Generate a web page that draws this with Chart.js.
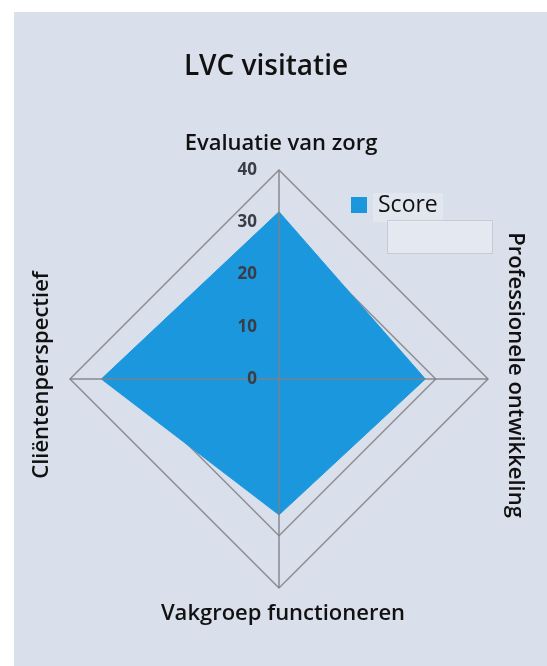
<!DOCTYPE html>
<html>
<head>
<meta charset="utf-8">
<script src="https://cdn.jsdelivr.net/npm/chart.js@4/dist/chart.umd.min.js"></script>
<style>
  html, body { margin: 0; padding: 0; background: #fff; }
  #panel {
    position: absolute;
    left: 14px;
    top: 12px;
    width: 533px;
    height: 654px;
    background: #d9dfeb;
  }
</style>
</head>
<body>
<div id="panel"><canvas id="radar"></canvas></div>
<script>
// chart data
const title = "LVC visitatie";
const categories = [
  "Evaluatie van zorg",
  "Professionele ontwikkeling",
  "Vakgroep functioneren",
  "Cliëntenperspectief",
];
const seriesName = "Score";
const scores = [32, 28, 26, 34];
const scaleMax = 40;
const tickStep = 10;

const BLUE = "#1b97dd";
const TEXT = "#111";

/**
 * Draws the bits Chart.js can't lay out like the original:
 * axis lines over the fill, offset tick labels, rotated side labels,
 * the title and the little legend.
 */
const radarDecor = {
  id: "radarDecor",
  afterDatasetsDraw(chart) {
    const r = chart.scales.r;
    const ctx = chart.ctx;
    ctx.save();

    // axis lines sit on top of the filled area
    ctx.strokeStyle = "rgba(128,128,132,0.9)";
    ctx.lineWidth = 1.5;
    categories.forEach((c, i) => {
      const p = r.getPointPositionForValue(i, r.max);
      ctx.beginPath();
      ctx.moveTo(r.xCenter, r.yCenter);
      ctx.lineTo(p.x, p.y);
      ctx.stroke();
    });

    // tick labels, left of the vertical axis
    ctx.font = 'bold 17px "Open Sans"';
    ctx.fillStyle = "#3a3d45";
    ctx.textAlign = "right";
    ctx.textBaseline = "middle";
    r.ticks.forEach((t) => {
      const y = r.yCenter - r.getDistanceFromCenterForValue(t.value);
      ctx.fillText(t.label, r.xCenter - 22, y);
    });
    ctx.restore();
  },
  afterDraw(chart) {
    const r = chart.scales.r;
    const ctx = chart.ctx;
    ctx.save();
    ctx.fillStyle = TEXT;

    // title
    ctx.font = '600 28px "Open Sans"';
    ctx.textAlign = "center";
    ctx.textBaseline = "alphabetic";
    ctx.fillText(title, r.xCenter - 13, r.yCenter - 304);

    // point labels
    ctx.font = '600 22px "Open Sans"';
    const top = r.getPointPositionForValue(0, r.max);
    const right = r.getPointPositionForValue(1, r.max);
    const bottom = r.getPointPositionForValue(2, r.max);
    const left = r.getPointPositionForValue(3, r.max);
    ctx.fillText(categories[0], top.x + 2, top.y - 20);
    ctx.fillText(categories[2], bottom.x + 4, bottom.y + 32);

    ctx.textBaseline = "middle";
    ctx.save();
    ctx.translate(right.x + 27, r.yCenter - 4);
    ctx.rotate(Math.PI / 2);
    ctx.fillText(categories[1], 0, 0);
    ctx.restore();

    ctx.save();
    ctx.translate(left.x - 28, r.yCenter - 4);
    ctx.rotate(-Math.PI / 2);
    ctx.fillText(categories[3], 0, 0);
    ctx.restore();

    // legend
    const lx = r.xCenter + 72;
    const ly = r.yCenter - 182;
    ctx.fillStyle = "rgba(255,255,255,0.22)";
    ctx.fillRect(lx + 22, ly - 4, 70, 29);
    ctx.fillStyle = BLUE;
    ctx.fillRect(lx, ly, 16, 16);
    ctx.fillStyle = TEXT;
    ctx.font = '500 23px "Open Sans"';
    ctx.textAlign = "left";
    ctx.fillText(seriesName, lx + 27, ly + 8);

    // empty legend box below the entry
    ctx.fillStyle = "rgba(255,255,255,0.3)";
    ctx.strokeStyle = "#c6cbd4";
    ctx.lineWidth = 1;
    ctx.fillRect(lx + 36, ly + 23, 105, 33);
    ctx.strokeRect(lx + 36.5, ly + 23.5, 105, 33);
    ctx.restore();
  },
};

new Chart(document.getElementById("radar"), {
  type: "radar",
  data: {
    labels: categories,
    datasets: [
      {
        label: seriesName,
        data: scores,
        backgroundColor: BLUE,
        borderColor: BLUE,
        borderWidth: 1,
        pointRadius: 0,
        fill: true,
      },
    ],
  },
  options: {
    responsive: true,
    maintainAspectRatio: false,
    animation: false,
    layout: {
      padding: { left: 56, right: 58, top: 158, bottom: 77 },
    },
    scales: {
      r: {
        min: 0,
        max: scaleMax,
        ticks: { stepSize: tickStep, display: false },
        grid: { color: "#8e8e92", lineWidth: 1.5, circular: false },
        angleLines: { display: false },
        pointLabels: { display: false },
      },
    },
    plugins: {
      legend: { display: false },
      tooltip: { enabled: false },
    },
  },
  plugins: [radarDecor],
});
</script>
</body>
</html>
